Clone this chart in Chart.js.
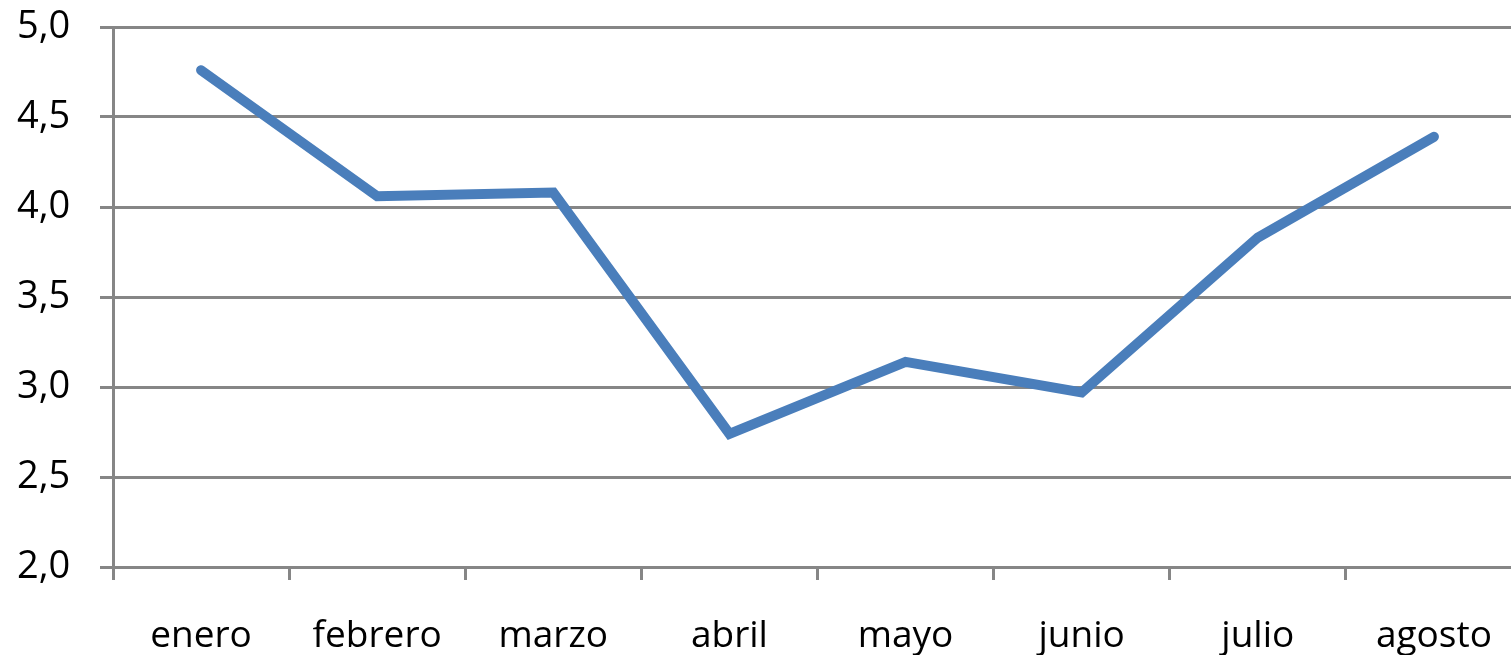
<!DOCTYPE html>
<html>
<head>
<meta charset="utf-8">
<script src="https://cdn.jsdelivr.net/npm/chart.js@4"></script>
<style>
    html, body { margin: 0; padding: 0; background: #fff; overflow: hidden; }
    #wrap { width: 1530px; height: 655px; }
</style>
</head>
<body>
<div id="wrap"><canvas id="grafico"></canvas></div>
<script>
    // Datos
    const meses = ['enero', 'febrero', 'marzo', 'abril', 'mayo', 'junio', 'julio', 'agosto']
    const valores = [4.76, 4.06, 4.08, 2.74, 3.14, 2.97, 3.83, 4.39]
    const yMin = 2.0
    const yMax = 5.0
    const yPaso = 0.5

    const gris = '#868686'
    const fuente = "'Open Sans', 'Liberation Sans', sans-serif"

    new Chart(
        document.getElementById('grafico'),
        {
            type: 'line',
            data: {
                labels: meses,
                datasets: [
                    {
                        data: valores,
                        borderColor: '#4A7EBB',
                        backgroundColor: '#4A7EBB',
                        borderWidth: 10,
                        borderCapStyle: 'round',
                        borderJoinStyle: 'miter',
                        tension: 0,
                        pointRadius: 0,
                        pointHoverRadius: 0
                    }
                ]
            },
            options: {
                responsive: true,
                maintainAspectRatio: false,
                animation: false,
                events: [],
                layout: {
                    padding: { top: 0, right: 1, left: 17, bottom: 0 }
                },
                scales: {
                    x: {
                        offset: true,
                        afterFit: function (scale) { scale.height = 88 },
                        grid: {
                            offset: true,
                            drawOnChartArea: false,
                            drawTicks: true,
                            tickLength: 13,
                            tickWidth: 3,
                            tickColor: gris
                        },
                        border: { color: gris, width: 3 },
                        ticks: {
                            color: '#000',
                            padding: 38,
                            maxRotation: 0,
                            autoSkip: false,
                            font: { family: fuente, size: 37, lineHeight: 1 }
                        }
                    },
                    y: {
                        min: yMin,
                        max: yMax,
                        afterFit: function (scale) { scale.width = 96 },
                        grid: {
                            color: gris,
                            lineWidth: 3,
                            drawTicks: true,
                            tickLength: 13,
                            tickColor: gris
                        },
                        border: { color: gris, width: 3 },
                        ticks: {
                            stepSize: yPaso,
                            color: '#000',
                            padding: 8, // tambien fija el margen de arriba
                            crossAlign: 'far',
                            font: { family: fuente, size: 38, lineHeight: 1 },
                            callback: v => v.toFixed(1).replace('.', ',') // coma decimal
                        }
                    }
                },
                plugins: {
                    legend: { display: false },
                    tooltip: { enabled: false }
                }
            }
        }
    );
</script>
</body>
</html>
